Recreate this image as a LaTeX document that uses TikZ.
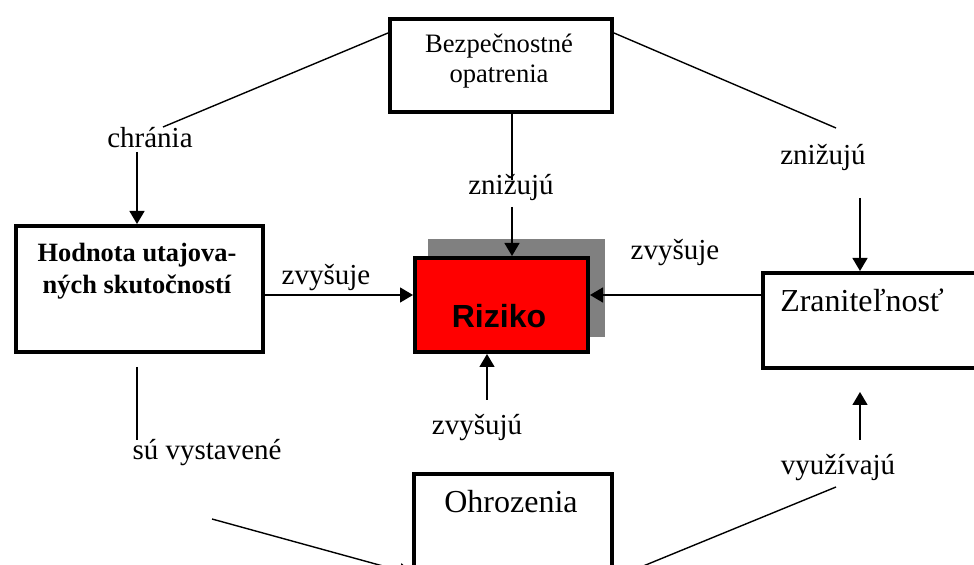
\documentclass[tikz,border=0pt]{standalone}
\usepackage{fontspec}
\setmainfont{Liberation Serif}
\newfontfamily\arialfont{Liberation Sans}
\usetikzlibrary{arrows.meta,positioning,calc,shadows}

\begin{document}
\begin{tikzpicture}[x=0.5pt,y=-0.5pt,>={Triangle[length=6.5pt,width=7.5pt]},
    box/.style={draw, line width=2pt, anchor=north west, inner sep=0pt},
    word/.style={anchor=base, inner sep=0pt, font=\fontsize{14.5}{17}\selectfont},
    boxtext/.style={anchor=base, inner sep=0pt, font=\fontsize{16}{19}\selectfont},
    link/.style={line width=0.7pt}]
    \useasboundingbox (0,0) rectangle (974,565);
    \clip (0,0) rectangle (974,565);

    % boxes
    \node [box, minimum width=111pt, minimum height=46.5pt] (bez) at (388,17) {};
    \node [box, minimum width=123.5pt, minimum height=63pt] (hod) at (14,224) {};
    \node [box, minimum width=86.5pt, minimum height=47pt, fill=red,
      general shadow={fill=gray, draw=gray, line width=2pt, shadow xshift=7.5pt, shadow yshift=8.5pt}] (riz) at (413,256) {};
    \node [box, minimum width=119.5pt, minimum height=47.5pt] (zra) at (761,271) {};
    \node [box, minimum width=99pt, minimum height=100pt] (ohr) at (412,472) {};

    \node [anchor=north, inner sep=0pt, align=center,
      font=\fontsize{13.3}{15}\selectfont] (bez-t) at (499,34) {Bezpečnostné\\opatrenia};
    \node [anchor=north, inner sep=0pt, align=center,
      font=\fontsize{13.2}{16}\selectfont\bfseries] (hod-t) at (137,243) {Hodnota utajova-\\ných skutočností};
    \node [boxtext, font=\fontsize{16}{19}\selectfont\arialfont\bfseries] (riz-t) at (499,328) {Riziko};
    \node [boxtext] (zra-t) at (862,312) {Zraniteľnosť};
    \node [boxtext] (ohr-t) at (511,513) {Ohrozenia};

    % labels
    \node [word] (chr) at (150,148) {chránia};
    \node [word] (zn1) at (511,195) {znižujú};
    \node [word] (zn2) at (823,165) {znižujú};
    \node [word] (zv1) at (326,285) {zvyšuje};
    \node [word] (zv2) at (675,260) {zvyšuje};
    \node [word] (zv3) at (477,435) {zvyšujú};
    \node [word] (su) at (207,460) {sú vystavené};
    \node [word] (vy) at (838,475) {využívajú};

    \coordinate (chr-a) at (163,127);
    \coordinate (chr-b) at (137,152);
    \coordinate (zn1-a) at (512,180);
    \coordinate (zn1-b) at (512,207);
    \coordinate (zn2-a) at (836,128);
    \coordinate (zn2-b) at (860,198);
    \coordinate (mid) at (0,295);
    \coordinate (zv-b) at (487,400);
    \coordinate (su-a) at (137,367);
    \coordinate (su-b) at (137,440);
    \coordinate (su-c) at (212,519);
    \coordinate (vy-a) at (836,487);
    \coordinate (vy-b) at (860,440);
    \coordinate (vy-c) at (860,392);

    % connectors
    \draw[link] ([yshift=-8pt]bez.north west) -- (chr-a);
    \draw[link,->] (chr-b) -- (hod.north -| chr-b);
    \draw[link] (bez.south -| zn1-a) -- (zn1-a);
    \draw[link,->] (zn1-b) -- (riz.north -| zn1-b);
    \draw[link] ([yshift=-8pt]bez.north east) -- (zn2-a);
    \draw[link,->] (zn2-b) -- (zra.north -| zn2-b);
    \draw[link,->] (hod.east |- mid) -- (riz.west |- mid);
    \draw[link,->] (zra.west |- mid) -- (riz.east |- mid);
    \draw[link,->] (zv-b) -- (riz.south -| zv-b);
    \draw[link] (su-a) -- (su-b);
    \draw[link,->] (su-c) -- (ohr.west);
    \draw[link] ($(ohr.east)+(0,4)$) -- (vy-a);
    \draw[link,->] (vy-b) -- (vy-c);
\end{tikzpicture}
\end{document}
